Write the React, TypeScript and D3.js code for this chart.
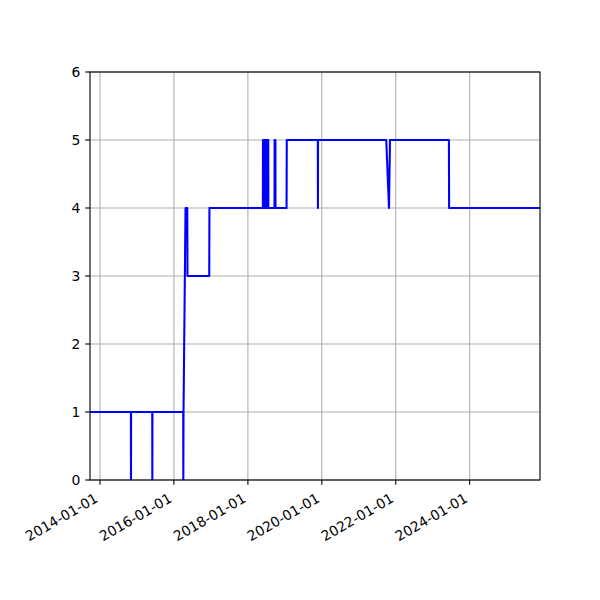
import React from "react";
import * as d3 from "d3";

const dates: string[] = [
  "2013-09-24", "2014-11-02", "2014-11-03", "2014-11-04",
  "2015-06-01", "2015-06-02", "2015-06-03",
  "2016-04-02", "2016-04-03", "2016-04-05", "2016-04-25", "2016-05-12", "2016-05-14",
  "2016-12-15", "2016-12-17",
  "2018-05-29", "2018-05-30", "2018-06-04", "2018-06-05", "2018-06-10", "2018-06-11",
  "2018-06-16", "2018-06-17", "2018-06-22", "2018-06-23", "2018-06-28", "2018-06-29",
  "2018-07-04", "2018-07-05", "2018-07-10", "2018-07-11", "2018-07-16", "2018-07-17",
  "2018-07-21", "2018-07-22",
  "2018-09-21", "2018-09-22", "2018-09-30", "2018-10-01",
  "2019-01-18", "2019-01-20",
  "2019-11-23", "2019-11-24", "2019-11-25",
  "2021-09-29", "2021-10-26", "2021-11-05",
  "2023-06-10", "2023-06-12",
  "2025-11-26",
];
const values: number[] = [
  1, 1, 0, 1,
  1, 0, 1,
  1, 0, 1, 4, 4, 3,
  3, 4,
  4, 5, 5, 4, 4, 5,
  5, 4, 4, 5, 5, 4,
  4, 5, 5, 4, 4, 5,
  5, 4,
  4, 5, 5, 4,
  4, 5,
  5, 4, 5,
  5, 4, 5,
  5, 4,
  4,
];
const xTicks: string[] = ["2014-01-01", "2016-01-01", "2018-01-01", "2020-01-01", "2022-01-01", "2024-01-01"];
const yTicks: number[] = [0, 1, 2, 3, 4, 5, 6];
const xDomain: string[] = ["2013-09-24", "2025-11-26"];

export default function App() {
  const W = 600, H = 600;
  const L = 90, R = 540, T = 72, B = 480;
  const parse = d3.utcParse("%Y-%m-%d");
  const x = d3.scaleUtc().domain(xDomain.map((d) => parse(d) as Date)).range([L, R]);
  const y = d3.scaleLinear().domain([0, 6]).range([B, T]);
  const pts = dates.map((d, i) => [x(parse(d) as Date), y(values[i])] as [number, number]);
  const line = d3.line();
  const font = "DejaVu Sans, sans-serif";
  const fs = 13.9;
  const tickLen = 4.86;
  return (
    <svg width={W} height={H} style={{ position: "absolute", left: 0, top: 0, background: "white" }}>
      <defs>
        <clipPath id="clip">
          <rect x={L} y={T} width={R - L} height={B - T} />
        </clipPath>
      </defs>
      {xTicks.map((t) => {
        const px = x(parse(t) as Date);
        return <line key={"gx" + t} x1={px} x2={px} y1={T} y2={B} stroke="#b0b0b0" strokeWidth={1.11} />;
      })}
      {yTicks.map((t) => (
        <line key={"gy" + t} x1={L} x2={R} y1={y(t)} y2={y(t)} stroke="#b0b0b0" strokeWidth={1.11} />
      ))}
      <path d={line(pts) || ""} fill="none" stroke="#0000ff" strokeWidth={2.08} clipPath="url(#clip)" strokeLinejoin="round" />
      <rect x={L} y={T} width={R - L} height={B - T} fill="none" stroke="black" strokeWidth={1.11} />
      {yTicks.map((t) => (
        <g key={"yt" + t}>
          <line x1={L - tickLen} x2={L} y1={y(t)} y2={y(t)} stroke="black" strokeWidth={1.11} />
          <text x={L - 9.7} y={y(t)} dy="0.36em" textAnchor="end" fontFamily={font} fontSize={fs} fill="black">
            {t}
          </text>
        </g>
      ))}
      {xTicks.map((t) => {
        const px = x(parse(t) as Date);
        return (
          <g key={"xt" + t}>
            <line x1={px} x2={px} y1={B} y2={B + tickLen} stroke="black" strokeWidth={1.11} />
            <text
              transform={`translate(${px - 1},${B + 9.7 + 11.5}) rotate(-30)`}
              textAnchor="end"
              fontFamily={font}
              fontSize={fs}
              fill="black"
            >
              {t}
            </text>
          </g>
        );
      })}
    </svg>
  );
}
